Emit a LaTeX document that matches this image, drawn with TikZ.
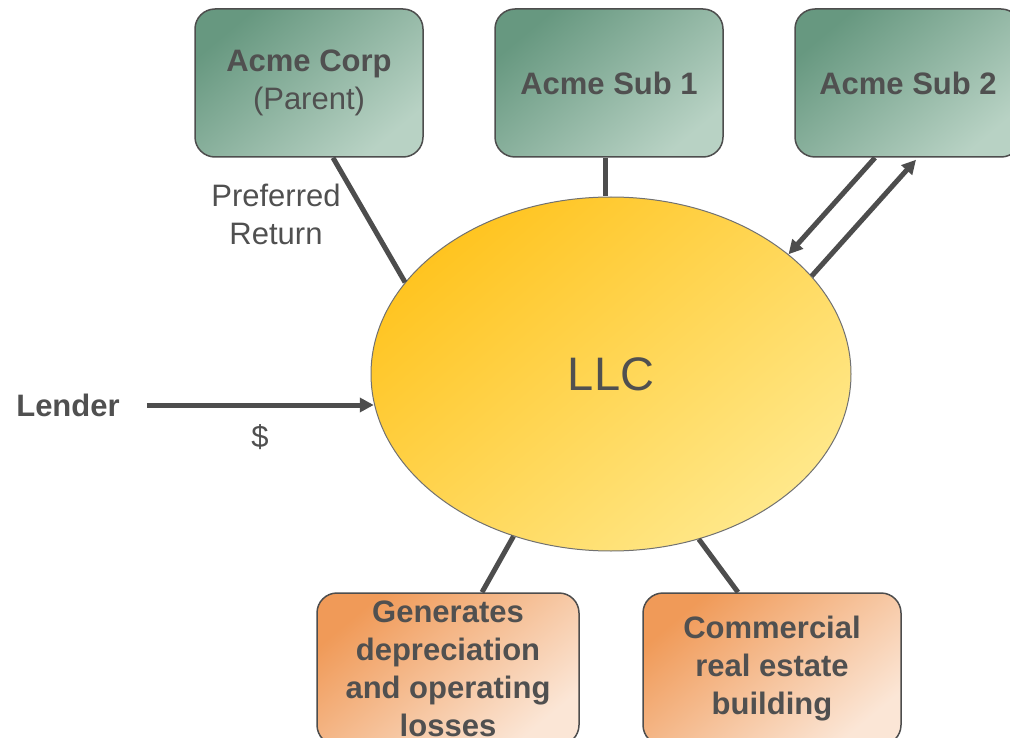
\documentclass[tikz,border=0pt]{standalone}
\usepackage{fontspec}
\setmainfont{Liberation Sans}
\usetikzlibrary{arrows.meta,calc,shapes.geometric}
\definecolor{txt}{HTML}{505050}
\definecolor{edge}{HTML}{4D4D4D}
\definecolor{gdark}{HTML}{679880}
\definecolor{glight}{HTML}{B8D2C4}
\definecolor{odark}{HTML}{F09A58}
\definecolor{olight}{HTML}{FBE6D6}
\definecolor{ydark}{HTML}{FFC420}
\definecolor{ylight}{HTML}{FFE88A}
\tikzset{
  greenbox/.style={draw=edge, line width=1.5pt, rounded corners=20pt, top color=gdark, bottom color=glight, shading angle=40, text=txt, align=center, inner sep=0pt, font=\fontsize{31}{38}\selectfont},
  orangebox/.style={draw=edge, line width=1.5pt, rounded corners=20pt, top color=odark, bottom color=olight, shading angle=40, text=txt, align=center, inner sep=0pt, font=\fontsize{31}{38}\selectfont\bfseries},
  conn/.style={draw=edge, line width=5pt},
  arr/.style={conn, -{Triangle[length=14pt,width=14pt]}},
  lbl/.style={text=txt, align=center, inner sep=0pt, font=\fontsize{31}{38}\selectfont},
}
\begin{document}
\begin{tikzpicture}[x=1pt,y=-1pt]
\useasboundingbox (0,0) rectangle (1010,738);
\node[ellipse, draw=edge!80, line width=1pt, top color=ydark, bottom color=ylight, shading angle=40, minimum width=480pt, minimum height=354pt, inner sep=0pt, text=txt, font=\fontsize{47}{50}\selectfont] (llc) at (611,374) {LLC};
\node[greenbox, minimum width=228pt, minimum height=148pt] (corp) at (309,83) {\textbf{Acme Corp}\\(Parent)};
\node[greenbox, minimum width=228pt, minimum height=148pt] (sub1) at (609,83) {\textbf{Acme Sub 1}};
\node[greenbox, minimum width=226pt, minimum height=148pt] (sub2) at (908,83) {\textbf{Acme Sub 2}};
\node[orangebox, minimum width=262pt, minimum height=152pt] (gen) at (448,669) {Generates\\depreciation\\and operating\\losses};
\node[orangebox, minimum width=258pt, minimum height=152pt] (bldg) at (772,669) {Commercial\\real estate\\building};
\node[lbl, font=\fontsize{31}{38}\selectfont\bfseries] (lender) at (68,405) {Lender};
\node[lbl] (pref) at (276,214) {Preferred\\Return};
\node[lbl] (dollar) at (260,437) {\$};
\draw[conn] ($(corp.south)+(24,0)$) -- (llc.156);
\draw[conn] ($(sub1.south)+(-4,0)$) -- ($(llc.north)+(-6,0)$);
\draw[arr] ($(sub2.south)+(-33,0)$) -- (llc.34);
\draw[arr] (llc.26) -- ($(sub2.south)+(8,2)$);
\draw[arr] ($(lender.east)+(27,0)$) -- (lender.east -| llc.187.5);
\draw[conn] (llc.-121) -- ($(gen.north)+(34,0)$);
\draw[conn] (llc.-62) -- ($(bldg.north)+(-34,0)$);
\end{tikzpicture}
\end{document}
